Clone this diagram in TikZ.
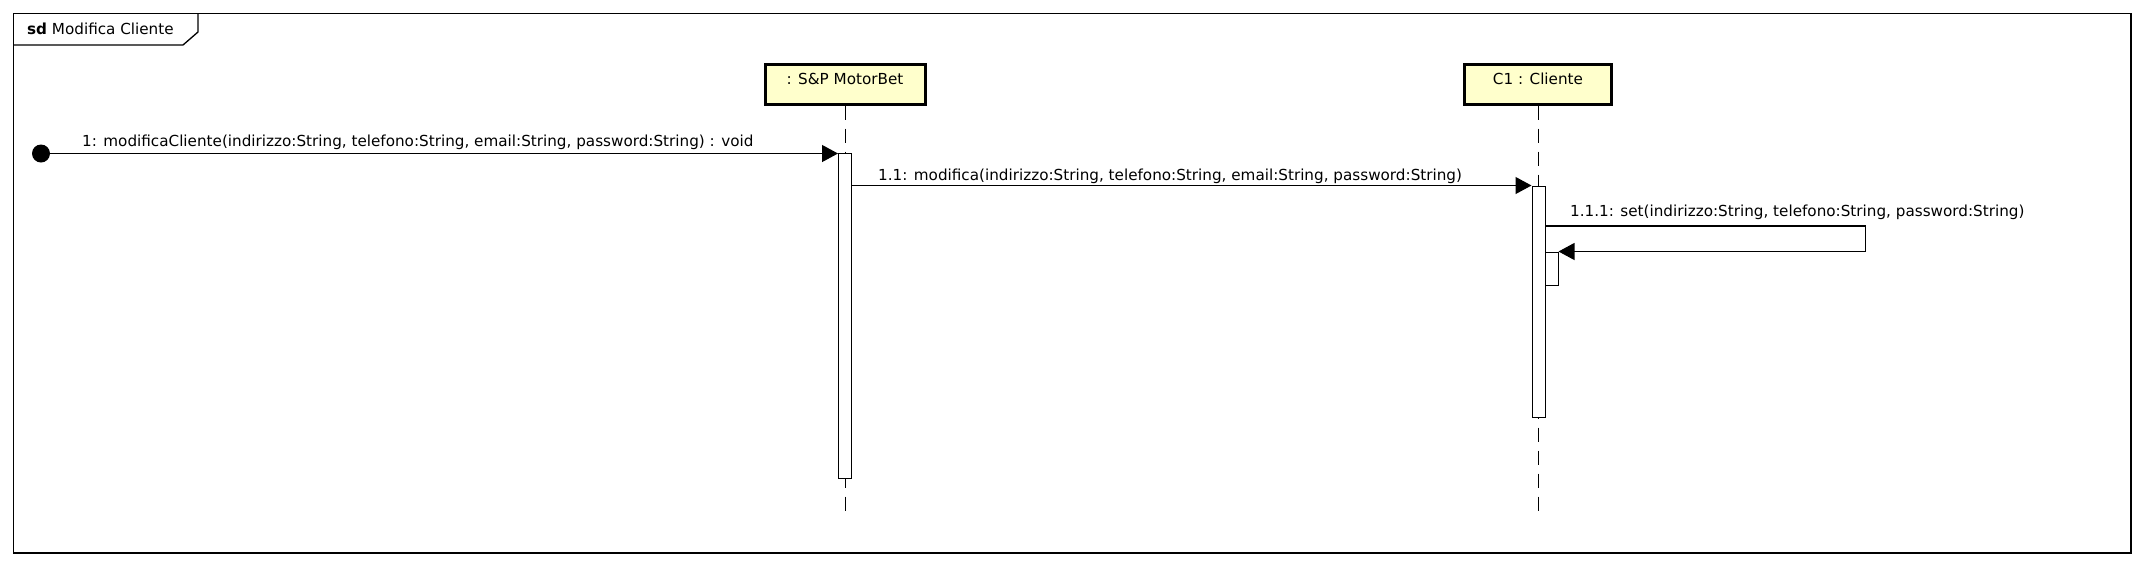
\documentclass[tikz,border=0pt]{standalone}
\usepackage{fontspec}
\setmainfont{DejaVu Sans}
\usetikzlibrary{arrows.meta}
\definecolor{objfill}{RGB}{255,255,204}
\tikzset{
  objbox/.style={draw, line width=3pt, fill=objfill, minimum height=40pt, inner sep=0pt,
    text height=11pt, text depth=11pt},
  actbar/.style={draw, line width=1pt, fill=white, minimum width=13pt, inner sep=0pt},
  lifeline/.style={line width=1pt, dash pattern=on 14pt off 9pt},
  msg/.style={line width=1.2pt, -{Triangle[length=16pt, width=17pt]}},
  msglabel/.style={anchor=base west, inner sep=0pt},
  founddot/.style={circle, fill=black, minimum size=18pt, inner sep=0pt}
}
\begin{document}
\begin{tikzpicture}[x=1pt, y=-1pt, font=\fontsize{15.2}{18}\selectfont]
  \useasboundingbox (0,0) rectangle (2145,566);
  % frame
  \draw[line width=1.3pt] (13.7,13.7) rectangle (2131,553);
  \draw[line width=1.3pt] (13.7,45) -- (183,45) -- (198,32) -- (198,13.7);
  \node[anchor=west, inner sep=0pt] (title) at (27,29) {\textbf{sd} Modifica Cliente};
  % objects
  \node[objbox, minimum width=160pt] (motorbet) at (845,84) {: S\&P MotorBet};
  \node[objbox, minimum width=147pt] (cliente) at (1538,84) {C1 : Cliente};
  \coordinate (motorbetend) at (845,513);
  \coordinate (clienteend) at (1538,513);
  \draw[lifeline] (motorbet) -- (motorbetend);
  \draw[lifeline] (cliente) -- (clienteend);
  % activations
  \node[actbar, minimum height=325pt] (act1) at (845,315.5) {};
  \node[actbar, minimum height=231pt] (act2) at (1538.5,301.5) {};
  \node[actbar, minimum height=33pt] (act3) at (1551.5,268.5) {};
  % messages
  \node[founddot] (found) at (41,153.5) {};
  \draw[msg] (found.center) -- (found.center -| act1.west);
  \node[msglabel] (m1) at (82,146) {1: modificaCliente(indirizzo:String, telefono:String, email:String, password:String) : void};
  \draw[msg] (act1.east |- act2.north) -- (act2.north west);
  \node[msglabel] (m11) at (878,180) {1.1: modifica(indirizzo:String, telefono:String, email:String, password:String)};
  \draw[msg] (act2.east |- 0,226) -- ++(320,0) |- (act3.north east);
  \node[msglabel] (m111) at (1570,216) {1.1.1: set(indirizzo:String, telefono:String, password:String)};
\end{tikzpicture}
\end{document}
